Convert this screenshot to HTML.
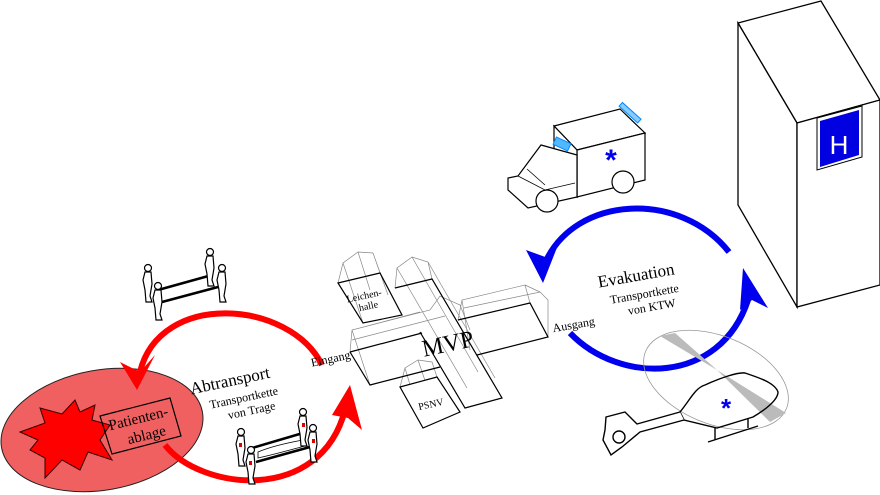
<!DOCTYPE html>
<html><head><meta charset="utf-8"><style>html,body{margin:0;padding:0;background:#fff}svg{display:block}text{font-family:"Liberation Serif",serif}</style></head><body>
<svg width="880" height="495" viewBox="0 0 880 495" xmlns="http://www.w3.org/2000/svg">
<defs>
<g id="p"><circle cx="0" cy="0" r="3.5"/><path d="M-3,4 L3,4 L4,16 L2,28 L4,34 L-2,34 L-3,22 L-5,12 Z"/></g>
</defs>
<!-- Hospital -->
<g stroke="#000" stroke-width="1.3" fill="#fff">
<polygon points="738,23 821,1 880,100 797,123"/>
<polygon points="738,23 797,123 797,307 738,205"/>
<polygon points="797,123 880,100 880,285 797,307"/>
</g>
<polygon points="817,118 862,106 862,157 817,170" fill="#fff" stroke="#000" stroke-width="1"/>
<polygon points="820,121 859,110 859,155 820,167" fill="#0000e0"/>
<text x="839" y="154" font-size="26" fill="#fff" text-anchor="middle" style="font-family:'Liberation Sans',sans-serif">H</text>

<!-- Ambulance -->
<g stroke="#000" stroke-width="1.2" fill="#fff">
<polygon points="554,126 620,109 645,133 577,150"/>
<polygon points="577,150 645,133 645,180 577,197"/>
<polygon points="554,126 577,150 577,197 554,180"/>
<path d="M577,155 L541,145 L518,176 L508,178 L508,190 L528,208 L577,197 Z"/>
<path d="M518,176 L545,190 L575,183 M545,190 L553,200 M527,169 L545,185" fill="none" stroke-width="0.8"/>
<circle cx="547" cy="201" r="11"/>
<circle cx="623" cy="182" r="11"/>
</g>
<rect x="554" y="140" width="16" height="8" transform="rotate(25 562 144)" fill="#4fb8ff" stroke="#08f"/>
<rect x="618" y="110" width="25" height="5" transform="rotate(42 630 112)" fill="#8cf" stroke="#08f"/>
<text x="611" y="170" font-size="30" fill="#0000ee" text-anchor="middle" style="font-family:'Liberation Sans',sans-serif;font-weight:bold">*</text>

<!-- Blue arcs -->
<g fill="none" stroke="#0000ee" stroke-width="6">
<path d="M545,263 C575,195 680,190 729,252"/>
<path d="M570,333 C620,385 720,385 748,300"/>
</g>
<polygon points="526,250 543,283 560,240 548,258" fill="#0000ee"/>
<polygon points="743,268 768,308 752,300 740,310" fill="#0000ee"/>

<!-- Helicopter -->
<ellipse cx="716" cy="380" rx="76" ry="44" transform="rotate(22 716 380)" fill="none" stroke="#999" stroke-width="0.8"/>
<polygon points="660,336 675,333 717,370" fill="#bbb"/>
<polygon points="717,370 786,413 770,422" fill="#bbb"/>
<g fill="none" stroke="#000" stroke-width="1.4">
<path d="M680,412 C690,400 695,388 705,385 C720,378 738,372 745,373 C760,378 775,383 778,392 C778,400 765,410 753,417 L717,428 L684,420 Z"/>
<path d="M680,412 L637,424 L625,412 L606,417 L605,430 L603,440 L611,455 L622,447 L640,432 L684,420" fill="#fff"/>
<circle cx="619" cy="437" r="6"/>
<path d="M708,442 L758,426 M715,428 L715,440 M748,418 L748,428"/>
</g>
<text x="726" y="417" font-size="26" fill="#0000ee" text-anchor="middle" style="font-family:'Liberation Sans',sans-serif;font-weight:bold">*</text>

<!-- Evakuation text -->
<g transform="rotate(-10 630 270)">
<text x="635" y="282" font-size="17" text-anchor="middle">Evakuation</text>
<text x="640" y="300" font-size="12" text-anchor="middle">Transportkette</text>
<text x="645" y="314" font-size="12" text-anchor="middle">von KTW</text>
<text x="565" y="318" font-size="12" text-anchor="middle">Ausgang</text>
</g>

<!-- MVP buildings gray roofs -->
<g fill="none" stroke="#888" stroke-width="0.7">
<path d="M338,283 L343,263 L358,252 L373,253 L380,273 M343,263 L363,323 M358,252 L370,290 M373,253 L388,295"/>
<path d="M395,288 L397,268 L412,257 L428,262 L432,279 M397,268 L467,388 M412,257 L478,372 M428,262 L495,378"/>
<path d="M350,352 L352,330 L420,312 M352,330 L370,385 M352,340 L445,316 M352,330 L430,310 L440,296 L460,305 L470,330"/>
<path d="M458,320 L462,300 L525,285 L530,303 M462,300 L470,350 M464,308 L540,292 L548,300 L548,337 M525,285 L540,292"/>
<path d="M400,387 L405,368 L418,360 L432,362 L437,377 M405,368 L423,428 M418,360 L435,410"/>
</g>
<g fill="none" stroke="#000" stroke-width="1.2">
<polygon points="338,283 380,273 402,315 363,323"/>
<path d="M395,288 L432,279 L502,398 L465,408 L420,332"/>
<path d="M350,352 L422,333 M350,352 L370,385 L440,367"/>
<path d="M458,320 L530,303 L548,337 L477,355"/>
<polygon points="400,387 437,377 460,412 423,428" fill="#fff"/>
</g>
<text transform="rotate(-12 360 305)" x="366" y="300" font-size="10" text-anchor="middle">Leichen-</text>
<text transform="rotate(-12 360 305)" x="368" y="311" font-size="10" text-anchor="middle">halle</text>
<text transform="rotate(-12 445 340)" x="447" y="352" font-size="24" text-anchor="middle">MVP</text>
<text transform="rotate(-12 428 400)" x="430" y="408" font-size="10" text-anchor="middle">PSNV</text>

<!-- Red ellipse -->
<ellipse cx="102" cy="430" rx="102" ry="60" transform="rotate(-10 102 430)" fill="#f06060" stroke="#222" stroke-width="1"/>
<polygon points="20,432 45,423 40,408 62,414 75,400 80,412 95,405 92,420 110,425 100,440 112,460 88,452 80,470 62,460 45,478 45,458 30,450 38,440" fill="#f00" stroke="#300" stroke-width="1"/>
<polygon points="100,416 170,398 181,436 112,454" fill="none" stroke="#000" stroke-width="1.2"/>
<text transform="rotate(-14 140 425)" x="140" y="423" font-size="15" text-anchor="middle">Patienten-</text>
<text transform="rotate(-14 140 425)" x="144" y="441" font-size="15" text-anchor="middle">ablage</text>

<!-- Red arcs -->
<g fill="none" stroke="#f00" stroke-width="6">
<path d="M322,365 C290,300 160,290 140,372"/>
<path d="M165,445 C200,490 320,505 345,410"/>
</g>
<polygon points="120,362 137,390 155,355 140,372" fill="#f00"/>
<polygon points="332,415 350,385 362,430 348,418" fill="#f00"/>

<!-- Abtransport text -->
<g transform="rotate(-12 240 380)">
<text x="230" y="384" font-size="17" text-anchor="middle">Abtransport</text>
<text x="240" y="402" font-size="12" text-anchor="middle">Transportkette</text>
<text x="245" y="416" font-size="12" text-anchor="middle">von Trage</text>
<text x="333" y="382" font-size="12" text-anchor="middle">Eingang</text>
</g>

<!-- Carriers top -->
<g stroke="#000" stroke-width="1.2" fill="#fff">
<path d="M158,290 L212,275 M162,302 L218,287" stroke-width="2.5"/>
<use href="#p" x="148" y="268"/>
<use href="#p" x="158" y="286"/>
<use href="#p" x="210" y="252"/>
<use href="#p" x="222" y="268"/>
</g>
<!-- Carriers bottom -->
<g stroke="#000" stroke-width="1.2" fill="#fff">
<path d="M252,448 L303,433 M256,462 L310,447" stroke-width="2.5"/>
<path d="M258,452 C272,446 292,442 303,440 L305,446 C290,450 272,455 258,458 Z" stroke-width="0.8"/>
<use href="#p" x="241" y="432"/>
<use href="#p" x="251" y="450"/>
<use href="#p" x="303" y="412"/>
<use href="#p" x="313" y="428"/>
</g>
<g fill="#d00"><rect x="239" y="443" width="3" height="4"/><rect x="249" y="461" width="3" height="4"/><rect x="302" y="423" width="3" height="4"/><rect x="312" y="439" width="3" height="4"/></g>
</svg>
</body></html>
